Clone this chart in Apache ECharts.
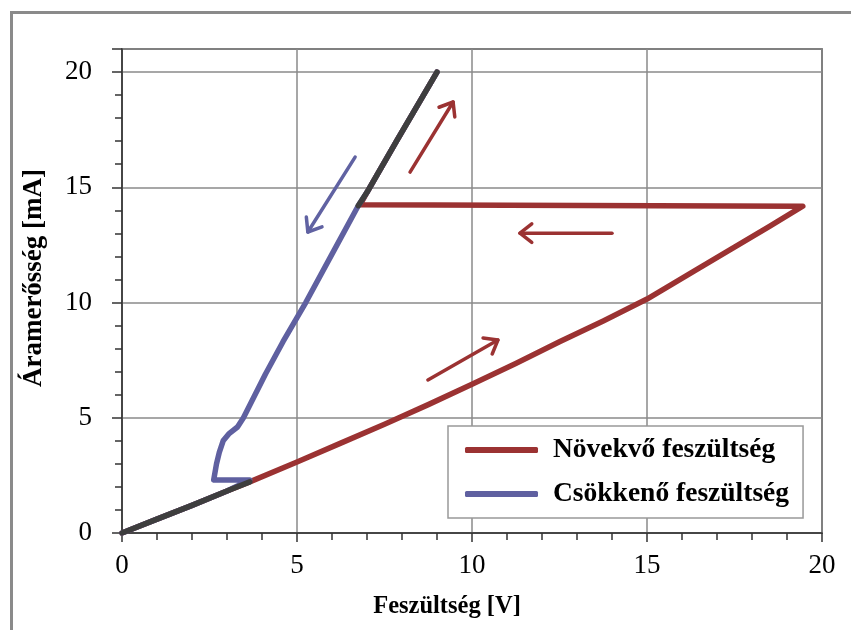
<!DOCTYPE html>
<html><head><meta charset="utf-8">
<script src="https://cdn.jsdelivr.net/npm/echarts/dist/echarts.min.js"></script>
<style>html,body{margin:0;padding:0;background:#fff}#c{width:851px;height:630px}</style>
</head><body><div id="c"></div>
<script>
// Növekvő feszültség (increasing voltage) path
const incV = [0, 1, 2, 3, 3.7, 5, 6.25, 7.5, 8.75, 10, 11.25, 12.5, 13.75, 15, 16.5, 17.5, 18.5, 19.45, 6.8, 7.0, 7.86, 9.0];
const incI = [0, 0.6, 1.2, 1.82, 2.25, 3.08, 3.9, 4.72, 5.57, 6.45, 7.35, 8.3, 9.2, 10.15, 11.5, 12.4, 13.3, 14.18, 14.24, 14.78, 17.05, 20];
// Csökkenő feszültség (decreasing voltage) path
const decV = [9.0, 7.86, 7.0, 6.75, 6.0, 5.25, 4.6, 4.1, 3.47, 3.3, 3.05, 2.89, 2.78, 2.7, 2.62, 3.65, 3.0, 2.0, 1.0, 0];
const decI = [20, 17.05, 14.78, 14.2, 12.1, 10, 8.3, 6.9, 5, 4.6, 4.3, 4.0, 3.5, 3.0, 2.3, 2.3, 1.82, 1.2, 0.6, 0];
// overlapping parts (drawn dark)
const ovLowV = [0, 1, 2, 3, 3.65];
const ovLowI = [0, 0.6, 1.2, 1.82, 2.22];
const ovHighV = [6.75, 7.0, 7.86, 9.0];
const ovHighI = [14.2, 14.78, 17.05, 20];
// tick labels
const xTicks = [0, 5, 10, 15, 20];
const yTicks = [0, 5, 10, 15, 20];
// annotation arrows [fromV, fromI, toV, toI, colour]
const arrows = [
  [8.23, 15.66, 9.46, 18.70, '#9B3232'],
  [6.66, 16.31, 5.31, 13.06, '#6062A2'],
  [14.0, 13.01, 11.37, 13.01, '#9B3232'],
  [8.74, 6.64, 10.74, 8.37, '#9B3232']
];
const names = ['Növekvő feszültség', 'Csökkenő feszültség'];

const RED = '#9B3232', BLUE = '#5F60A0', DARK = '#3E3E3E';
const FONT = '"Liberation Serif", "Times New Roman", serif';
const zip = (a, b) => a.map((v, i) => [v, b[i]]);

const chart = echarts.init(document.getElementById('c'), null, {renderer: 'canvas'});
const lineStyle = (c) => ({color: c, width: 5.5, cap: 'round', join: 'round'});

chart.setOption({
  animation: false,
  backgroundColor: '#fff',
  grid: {left: 122, top: 49, right: 29, bottom: 97, show: true, borderColor: '#333', borderWidth: 1.5, backgroundColor: 'transparent'},
  legend: {
    data: names,
    orient: 'vertical',
    left: 448, top: 426,
    padding: [10, 14, 10, 17],
    itemGap: 16,
    itemWidth: 73, itemHeight: 6,
    icon: 'roundRect',
    backgroundColor: '#fff',
    borderColor: '#999', borderWidth: 1.5,
    textStyle: {fontFamily: FONT, fontWeight: 'bold', fontSize: 27.5, color: '#000', padding: [0, 0, 0, 10]}
  },
  xAxis: {
    type: 'value', min: 0, max: 20, interval: 5,
    name: 'Feszültség [V]', nameLocation: 'middle', nameGap: 61,
    nameTextStyle: {fontFamily: FONT, fontWeight: 'bold', fontSize: 24.5, color: '#000', padding: [0, 50, 0, 0]},
    axisLine: {show: true, lineStyle: {color: '#333', width: 1.5}},
    axisTick: {show: true, length: 9, lineStyle: {color: '#333', width: 1.5}},
    minorTick: {show: true, splitNumber: 5, length: 7, lineStyle: {color: '#333', width: 1.5}},
    axisLabel: {fontFamily: FONT, fontSize: 27, color: '#000', margin: 19,
      formatter: v => xTicks.includes(v) ? String(v) : ''},
    splitLine: {show: true, lineStyle: {color: '#8a8a8a', width: 1.5}}
  },
  yAxis: [{
    type: 'value', min: 0, max: 21, interval: 5, position: 'left',
    name: 'Áramerősség [mA]', nameLocation: 'middle', nameGap: 74, nameRotate: 90,
    nameTextStyle: {fontFamily: FONT, fontWeight: 'bold', fontSize: 27, color: '#000', padding: [0, 0, 0, 26]},
    axisLine: {show: true, lineStyle: {color: '#333', width: 1.5}},
    axisTick: {show: true, length: 10, lineStyle: {color: '#333', width: 1.5}},
    axisLabel: {fontFamily: FONT, fontSize: 27, color: '#000', margin: 30,
      formatter: v => yTicks.includes(v) ? String(v) : ''},
    splitLine: {show: true, lineStyle: {color: '#8a8a8a', width: 1.5}}
  }, {
    type: 'value', min: 0, max: 21, interval: 1, position: 'left', offset: 0,
    axisLine: {show: false},
    axisTick: {show: true, length: 7, lineStyle: {color: '#333', width: 1.5}},
    axisLabel: {show: false},
    splitLine: {show: false}
  }],
  series: [
    {name: names[0], type: 'line', data: zip(incV, incI), showSymbol: false, symbol: 'none', lineStyle: lineStyle(RED), itemStyle: {color: RED}, z: 2},
    {name: names[1], type: 'line', data: zip(decV, decI), showSymbol: false, symbol: 'none', lineStyle: lineStyle(BLUE), itemStyle: {color: BLUE}, z: 3},
    {name: 'overlapLow', type: 'line', data: zip(ovLowV, ovLowI), showSymbol: false, symbol: 'none', lineStyle: lineStyle(DARK), z: 4},
    {name: 'overlapHigh', type: 'line', data: zip(ovHighV, ovHighI), showSymbol: false, symbol: 'none', lineStyle: lineStyle(DARK), z: 4}
  ]
});

// annotation arrows and outer frame
const g = [{
  type: 'rect', left: 9, top: 10, z: 100,
  shape: {x: 0, y: 0, width: 900, height: 700},
  style: {fill: 'none', stroke: '#8a8a8a', lineWidth: 3}
}];
arrows.forEach(a => {
  const s = chart.convertToPixel({gridIndex: 0}, [a[0], a[1]]);
  const t = chart.convertToPixel({gridIndex: 0}, [a[2], a[3]]);
  const dx = t[0] - s[0], dy = t[1] - s[1], L = Math.hypot(dx, dy);
  const ux = dx / L, uy = dy / L, h = 15, ang = 38 * Math.PI / 180;
  const arm = (sgn) => {
    const c = Math.cos(sgn * ang), sn = Math.sin(sgn * ang);
    const rx = ux * c - uy * sn, ry = ux * sn + uy * c;
    return [t[0] - h * rx, t[1] - h * ry];
  };
  const st = {stroke: a[4], lineWidth: 3.5, lineCap: 'round', lineJoin: 'round', fill: 'none'};
  g.push({type: 'polyline', z: 50, shape: {points: [s, t]}, style: st});
  g.push({type: 'polyline', z: 50, shape: {points: [arm(1), t, arm(-1)]}, style: st});
});
chart.setOption({graphic: g});
</script></body></html>
